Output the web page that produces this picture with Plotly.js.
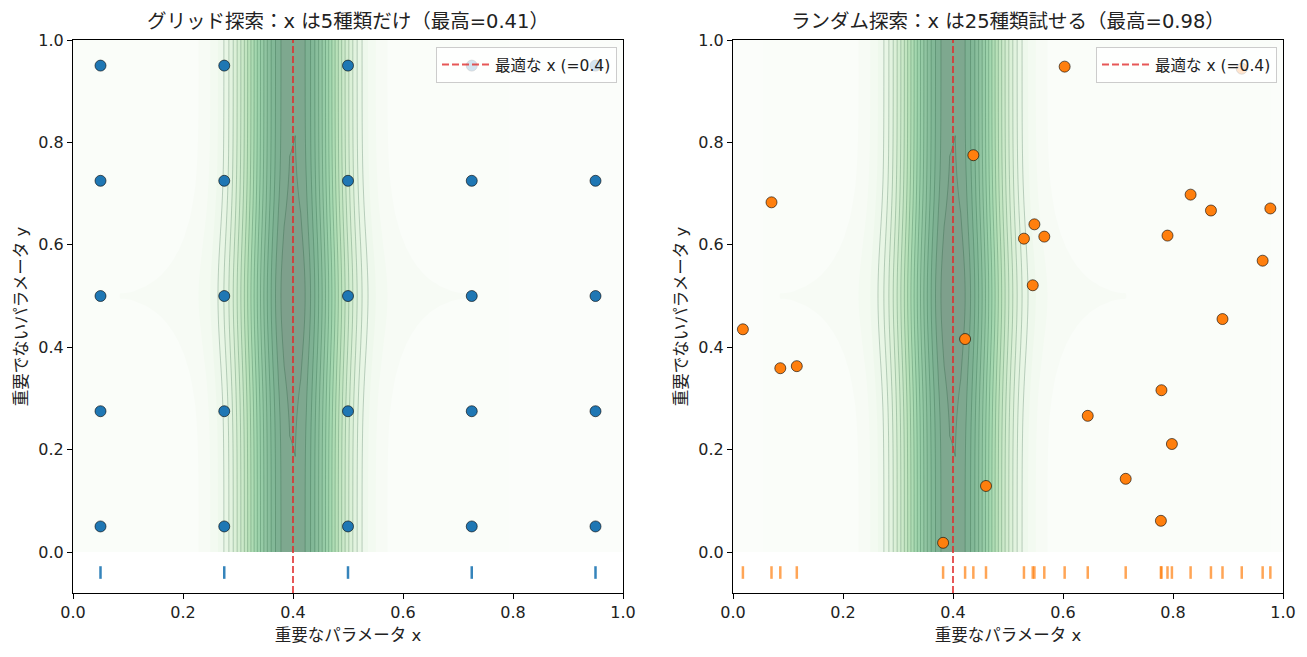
<!DOCTYPE html>
<html>
<head>
<meta charset="utf-8">
<script src="https://cdn.plot.ly/plotly-3.0.1.min.js"></script>
<style>
  html, body { margin: 0; padding: 0; background: #ffffff; }
  #chart { width: 1307px; height: 657px; }
</style>
</head>
<body>
<div id="chart"></div>
<script>
// Grid search: 5 x-values and 5 y-values, every combination is tried
const gridX = [0.05, 0.275, 0.5, 0.725, 0.95];
const gridY = [0.05, 0.275, 0.5, 0.725, 0.95];

// Random search: 25 independent (x, y) draws
const randX = [0.018, 0.070, 0.086, 0.116, 0.382, 0.422, 0.437, 0.460, 0.529, 0.545,
               0.548, 0.566, 0.603, 0.645, 0.714, 0.778, 0.779, 0.790, 0.798, 0.832,
               0.869, 0.890, 0.925, 0.963, 0.977];
const randY = [0.435, 0.683, 0.359, 0.363, 0.018, 0.416, 0.775, 0.129, 0.612, 0.521,
               0.640, 0.616, 0.948, 0.266, 0.143, 0.061, 0.316, 0.618, 0.211, 0.698,
               0.667, 0.455, 0.944, 0.569, 0.671];

const tickVals = [0.0, 0.2, 0.4, 0.6, 0.8, 1.0];
const tickText = ['0.0', '0.2', '0.4', '0.6', '0.8', '1.0'];

const optimumX = 0.4;
const gridBest = 0.41;
const randBest = 0.98;

// Score surface: sharp ridge along the important parameter x,
// plus a faint bump along the unimportant parameter y
const ridgeWidth = 0.07;
const bumpAmp = 0.05;
const bumpCentre = 0.5;
const bumpWidth = 0.12;
const surfN = 100;

function score(x, y) {
  return Math.exp(-((x - optimumX) ** 2) / (2 * ridgeWidth ** 2)) +
         bumpAmp * Math.exp(-((y - bumpCentre) ** 2) / (2 * bumpWidth ** 2));
}

const axisPts = [];
for (let i = 0; i < surfN; i++) axisPts.push(i / (surfN - 1));
const surfZ = axisPts.map(y => axisPts.map(x => score(x, y)));

const greens = [
  [0.0, '#f7fcf5'], [0.125, '#e5f5e0'], [0.25, '#c7e9c0'], [0.375, '#a1d99b'],
  [0.5, '#74c476'], [0.625, '#41ab5d'], [0.75, '#238b45'], [0.875, '#006d2c'],
  [1.0, '#00441b']
];
const fillLevels = { start: 0.05, end: 1.0, size: 0.05 };
const lineLevels = { start: 0.2, end: 1.0, size: 0.05 };

const FONT = '"DejaVu Sans", "Noto Sans CJK JP", sans-serif';
const blue = '#1f77b4';
const orange = '#ff7f0e';
const rugY = -0.04;
const yLow = -0.08;

function surfaceTraces(xa, ya) {
  return [
    {
      type: 'contour', x: axisPts, y: axisPts, z: surfZ, xaxis: xa, yaxis: ya,
      colorscale: greens, showscale: false, opacity: 0.5, autocontour: false,
      contours: Object.assign({ coloring: 'fill', showlines: false }, fillLevels),
      line: { width: 0 }, hoverinfo: 'skip', showlegend: false
    },
    {
      type: 'contour', x: axisPts, y: axisPts, z: surfZ, xaxis: xa, yaxis: ya,
      showscale: false, autocontour: false,
      contours: Object.assign({ coloring: 'none' }, lineLevels),
      line: { color: 'rgba(0,60,25,0.38)', width: 0.6 },
      hoverinfo: 'skip', showlegend: false
    }
  ];
}

function optimumLine(xa, ya, legendId) {
  return {
    type: 'scatter', mode: 'lines', x: [optimumX, optimumX], y: [yLow, 1.0],
    xaxis: xa, yaxis: ya, legend: legendId,
    line: { color: 'rgba(225,45,45,0.8)', width: 2, dash: '7px,3px' },
    name: '最適な x (=' + optimumX + ')', showlegend: true, hoverinfo: 'skip'
  };
}

// every combination of the grid values
const gx = [], gy = [];
gridY.forEach(y => gridX.forEach(x => { gx.push(x); gy.push(y); }));

const traces = [
  ...surfaceTraces('x', 'y'),
  optimumLine('x', 'y', 'legend'),
  {
    type: 'scatter', mode: 'markers', x: gx, y: gy, xaxis: 'x', yaxis: 'y',
    marker: { color: blue, size: 11, line: { color: '#000000', width: 0.6 } },
    showlegend: false
  },
  {
    type: 'scatter', mode: 'markers', x: gridX, y: gridX.map(() => rugY), xaxis: 'x', yaxis: 'y',
    marker: { symbol: 'line-ns', size: 9, line: { color: 'rgba(31,119,180,0.9)', width: 2.5 } },
    showlegend: false
  },
  ...surfaceTraces('x2', 'y2'),
  optimumLine('x2', 'y2', 'legend2'),
  {
    type: 'scatter', mode: 'markers', x: randX, y: randY, xaxis: 'x2', yaxis: 'y2',
    marker: { color: orange, size: 11, line: { color: '#000000', width: 0.6 } },
    showlegend: false
  },
  {
    type: 'scatter', mode: 'markers', x: randX, y: randX.map(() => rugY), xaxis: 'x2', yaxis: 'y2',
    marker: { symbol: 'line-ns', size: 9, line: { color: 'rgba(255,127,14,0.7)', width: 2.5 } },
    showlegend: false
  }
];

const W = 1307, H = 657;
const px = v => v / W;
const py = v => 1 - v / H;

function xAxis(domain, anchor) {
  return {
    domain: domain, anchor: anchor, range: [0, 1],
    tickvals: tickVals, ticktext: tickText, ticks: 'outside', ticklen: 5,
    tickcolor: '#000', tickwidth: 1, showline: true, linecolor: '#000', linewidth: 1,
    mirror: true, showgrid: false, zeroline: false,
    tickfont: { family: FONT, size: 16, color: '#222' },
    title: { text: '重要なパラメータ x', font: { family: FONT, size: 16.5, color: '#222' }, standoff: 8 }
  };
}
function yAxis(anchor) {
  return {
    domain: [py(593), py(40)], anchor: anchor, range: [yLow, 1.0],
    tickvals: tickVals, ticktext: tickText, ticks: 'outside', ticklen: 5,
    tickcolor: '#000', tickwidth: 1, showline: true, linecolor: '#000', linewidth: 1,
    mirror: true, showgrid: false, zeroline: false,
    tickfont: { family: FONT, size: 16, color: '#222' },
    title: { text: '重要でないパラメータ y', font: { family: FONT, size: 16.5, color: '#222' }, standoff: 6 }
  };
}
function legendBox(xRight) {
  return {
    x: xRight, xanchor: 'right', y: py(47), yanchor: 'top',
    bgcolor: 'rgba(255,255,255,0.8)', bordercolor: '#cccccc', borderwidth: 1,
    itemwidth: 48,
    font: { family: FONT, size: 15.5, color: '#222' }
  };
}

const layout = {
  width: W, height: H,
  margin: { l: 0, r: 0, t: 0, b: 0 },
  paper_bgcolor: '#ffffff', plot_bgcolor: '#ffffff',
  font: { family: FONT, color: '#222' },
  xaxis: xAxis([px(73), px(623)], 'y'),
  yaxis: yAxis('x'),
  xaxis2: xAxis([px(733), px(1283)], 'y2'),
  yaxis2: yAxis('x2'),
  legend: legendBox(px(617)),
  legend2: legendBox(px(1277)),
  annotations: [
    {
      text: 'グリッド探索：x は' + gridX.length + '種類だけ（最高=' + gridBest.toFixed(2) + '）',
      xref: 'paper', yref: 'paper', x: (px(73) + px(623)) / 2, y: py(21),
      xanchor: 'center', yanchor: 'middle', showarrow: false,
      font: { family: FONT, size: 19.5, color: '#222' }
    },
    {
      text: 'ランダム探索：x は' + randX.length + '種類試せる（最高=' + randBest.toFixed(2) + '）',
      xref: 'paper', yref: 'paper', x: (px(733) + px(1283)) / 2, y: py(21),
      xanchor: 'center', yanchor: 'middle', showarrow: false,
      font: { family: FONT, size: 19.5, color: '#222' }
    }
  ]
};

Plotly.newPlot('chart', traces, layout, { displayModeBar: false, staticPlot: true });
</script>
</body>
</html>
